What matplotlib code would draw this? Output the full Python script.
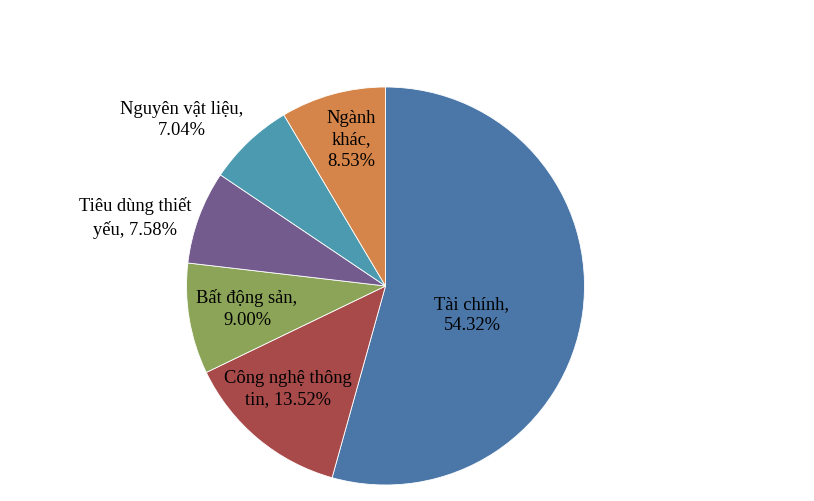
import matplotlib
matplotlib.use("Agg")
import matplotlib.pyplot as plt

# sector weights (%)
sectors = ["Tài chính", "Công nghệ thông tin", "Bất động sản",
           "Tiêu dùng thiết yếu", "Nguyên vật liệu", "Ngành khác"]
weights = [54.32, 13.52, 9.00, 7.58, 7.04, 8.53]
label_texts = ["Tài chính,\n54.32%", "Công nghệ thông\ntin, 13.52%",
               "Bất động sản,\n9.00%", "Tiêu dùng thiết\nyếu, 7.58%",
               "Nguyên vật liệu,\n7.04%", "Ngành\nkhác,\n8.53%"]
colors = ["#4a76a8", "#a84a4a", "#8ba457", "#735b8e", "#4b9aaf", "#d6854a"]

# label centres in pixel coords (top-left origin)
label_pos = [(472, 315), (288, 389), (247, 309), (135, 218), (182, 120), (351, 140)]

W, H = 814, 502
fig = plt.figure(figsize=(W / 100, H / 100), dpi=100)
ax = fig.add_axes([0, 0, 1, 1])

ax.pie(weights, colors=colors, startangle=90, counterclock=False,
       center=(385.5, H - 287), radius=199,
       wedgeprops=dict(edgecolor="white", linewidth=0.6))

ax.set_xlim(0, W)
ax.set_ylim(0, H)
ax.set_aspect("equal")
ax.axis("off")

for txt, (x, y) in zip(label_texts, label_pos):
    ax.text(x, H - y, txt, ha="center", va="center", fontsize=13.3,
            family=["Liberation Serif", "DejaVu Serif"], linespacing=1.36,
            color="black")

fig.savefig("out.png", dpi=100)
